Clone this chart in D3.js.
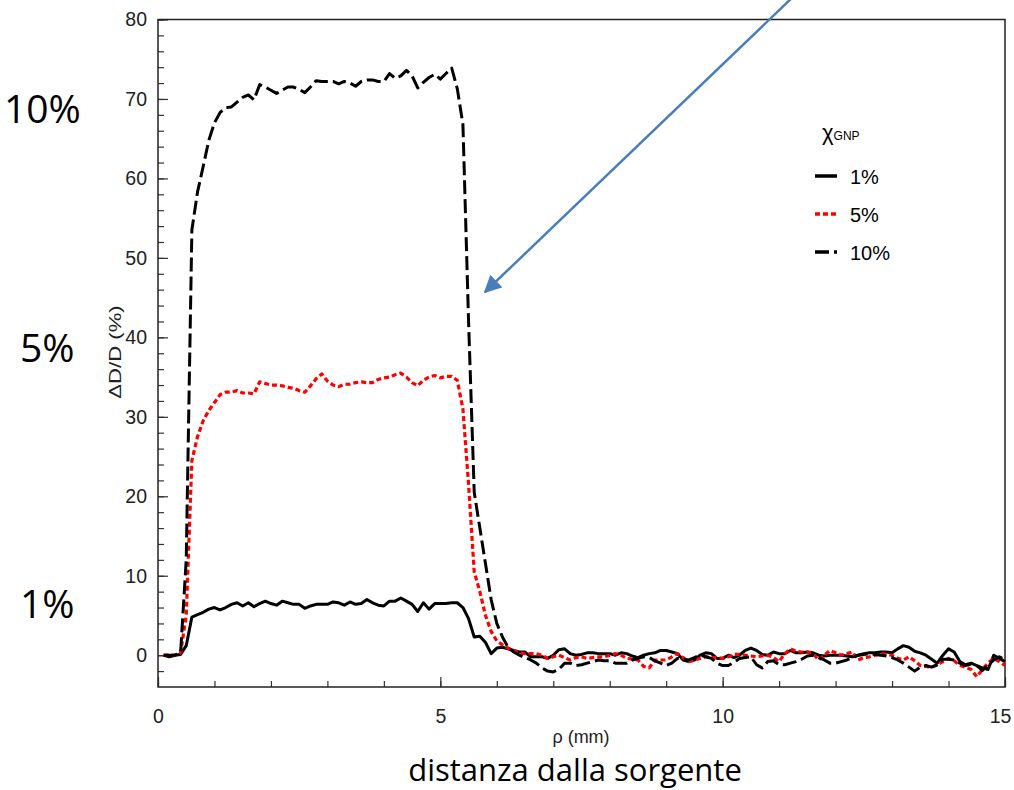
<!DOCTYPE html>
<html>
<head>
<meta charset="utf-8">
<script src="https://cdn.jsdelivr.net/npm/d3@7"></script>
<style>
body { margin: 0; background: #fff; }
</style>
</head>
<body>
<div id="graph"></div>
<script>
// rho (mm), one sample every 0.1 mm
let rho = d3.range(1, 151).map(i => i / 10);

// dD/D (%) for chi_GNP = 1%
let gnp1 = [
  0.0, -0.2, 0.0, 0.1, 1.2, 4.8, 5.1, 5.4, 5.8, 6.0,
  5.7, 6.0, 6.4, 6.6, 6.2, 6.6, 6.1, 6.5, 6.8, 6.5,
  6.3, 6.8, 6.6, 6.4, 6.4, 5.9, 6.2, 6.4, 6.4, 6.4,
  6.7, 6.6, 6.3, 6.7, 6.4, 6.5, 7.0, 6.6, 6.3, 6.2,
  6.8, 6.8, 7.2, 6.8, 6.4, 5.5, 6.6, 5.8, 6.5, 6.5,
  6.5, 6.6, 6.6, 6.0, 4.6, 2.3, 2.4, 1.6, 0.2, 0.9,
  1.0, 0.8, 0.6, 0.4, 0.4, -0.2, -0.2, -0.2, -0.4, 0.0,
  0.7, 0.8, 0.2, 0.0, 0.1, 0.3, 0.3, 0.2, 0.2, 0.2,
  0.0, 0.3, 0.2, -0.1, -0.3, 0.0, 0.2, 0.3, 0.6, 0.6,
  0.4, 0.2, -0.6, -0.8, -0.6, 0.0, 0.3, 0.2, -0.4, -0.4,
  0.0, -0.3, 0.0, 0.6, 0.9, 0.6, 0.1, 0.0, 0.4, 0.2,
  0.2, 0.6, 0.3, 0.3, 0.4, 0.3, 0.0, -0.1, 0.0, 0.0,
  0.0, -0.1, -0.2, 0.0, 0.2, 0.3, 0.3, 0.4, 0.4, 0.3,
  0.8, 1.2, 1.0, 0.5, 0.3, 0.0, -0.5, -1.0, 0.0, 0.8,
  0.4, -0.8, -1.2, -1.0, -1.3, -1.6, -1.8, 0.0, -0.4, -0.8
];

// dD/D (%) for chi_GNP = 5%
let gnp5 = [
  0.0, 0.0, 0.0, 0.3, 5.0, 24.5, 27.5, 29.5, 30.8, 31.8,
  32.8, 33.1, 33.1, 33.3, 33.0, 33.0, 32.9, 34.4, 34.2, 34.0,
  34.0, 33.9, 33.7, 33.6, 33.3, 33.1, 33.9, 34.8, 35.4, 34.5,
  34.0, 33.8, 34.1, 34.1, 34.3, 34.4, 34.3, 34.3, 34.7, 34.9,
  35.0, 35.3, 35.5, 35.0, 34.3, 33.9, 34.6, 35.0, 35.2, 34.9,
  35.1, 35.1, 34.6, 31.0, 21.5, 10.5, 8.0, 5.0, 3.0, 1.8,
  1.3, 0.9, 0.6, 0.3, 0.2, 0.2, 0.2, 0.0, -0.4, -0.2,
  0.0, -0.3, -0.6, -0.3, -0.2, -0.4, -0.3, -0.2, -0.2, 0.0,
  0.2, 0.0, -0.4, -0.5, -0.6, -1.4, -1.6, -0.6, -0.6, -0.6,
  -0.2, 0.2, -0.3, -0.8, -0.6, -0.4, -0.2, -0.3, -0.3, -0.4,
  -0.2, 0.1, 0.1, 0.0, -0.1, -0.2, -0.1, 0.0, -0.3, -0.8,
  0.2, 0.8, 0.5, 0.4, 0.4, 0.2, -0.6, 0.0, 0.6, 0.3,
  0.0, 0.2, 0.4, -0.6, -0.3, -0.2, 0.0, 0.2, 0.1, 0.0,
  -0.4, -0.6, -0.2, -0.7, -1.3, -1.4, -1.5, -1.2, -0.8, -0.4,
  -0.7, -1.3, -1.5, -1.8, -2.7, -1.8, -1.0, -0.4, -0.8, -1.3
];

// dD/D (%) for chi_GNP = 10%
let gnp10 = [
  0.0, 0.0, 0.0, 0.3, 12.0, 53.5, 58.3, 61.5, 64.8, 67.0,
  68.3, 68.9, 69.0, 69.6, 70.2, 70.5, 69.9, 71.8, 71.5, 71.1,
  70.7, 71.1, 71.5, 71.5, 71.2, 70.8, 71.5, 72.3, 72.2, 72.2,
  72.2, 71.9, 72.2, 72.0, 71.6, 72.2, 72.4, 72.4, 72.2, 72.2,
  73.2, 72.6, 72.9, 73.6, 72.9, 71.4, 72.1, 72.7, 73.1, 72.5,
  73.2, 73.9, 71.3, 66.8, 42.0, 20.5, 16.0, 11.5, 7.0, 4.0,
  2.3, 1.0, 0.4, 0.0, -0.3, -0.6, -1.0, -1.6, -2.0, -2.1,
  -1.8, -1.0, -1.0, -1.3, -1.2, -1.0, -0.8, -0.6, -0.7, -0.7,
  -1.0, -1.0, -1.0, -0.6, -0.4, -0.2, -0.3, -0.7, -1.0, -1.3,
  -1.0, -0.4, -0.5, -0.6, -0.3, 0.0, -0.2, -0.4, -1.0, -1.3,
  -1.3, -0.9, -0.4, -0.3, -0.2, -1.2, -1.6, -0.8, -0.7, -1.2,
  -1.2, -1.0, -0.8, -0.5, -0.1, 0.0, -0.3, -0.6, -1.0, -1.0,
  -0.8, -0.6, -0.3, 0.0, 0.1, 0.2, 0.1, 0.0, -0.1, -0.3,
  -0.6, -1.0, -1.5, -2.0, -1.5, -1.3, -1.5, -1.2, -0.5, -0.5,
  -0.6, -1.0, -1.3, -1.1, -1.3, -1.9, -1.2, -0.6, -0.2, -0.6
];

let seriesNames = ["1%", "5%", "10%"];
let xMajor = [0, 5, 10, 15];
let xMinor = d3.range(0, 16);
let yMajor = [0, 10, 20, 30, 40, 50, 60, 70, 80];
let yMinor = d3.range(-2, 81, 2);
let sideLabels = ["10%", "5%", "1%"];

let width = 1014, height = 790;
let sans = "'Liberation Sans', Arial, sans-serif";

let svg = d3.select("#graph")
    .append("svg")
    .attr("width", width)
    .attr("height", height)
    .style("background", "#fff");

let x = d3.scaleLinear().domain([0, 15]).range([158, 1005]);
let y = d3.scaleLinear().domain([-4, 80]).range([687, 19.5]);

// minor ticks first, no labels
svg.append("g")
    .attr("transform", `translate(0,${y(-4)})`)
    .call(d3.axisBottom(x).tickValues(xMinor).tickSize(-6).tickSizeOuter(0).tickFormat(""))
    .call(g => g.select(".domain").remove());
svg.append("g")
    .attr("transform", `translate(${x(0)},0)`)
    .call(d3.axisLeft(y).tickValues(yMinor).tickSize(-6).tickSizeOuter(0).tickFormat(""))
    .call(g => g.select(".domain").remove());

let xAxis = svg.append("g")
    .attr("transform", `translate(0,${y(-4)})`)
    .call(d3.axisBottom(x).tickValues(xMajor).tickSize(-10).tickSizeOuter(0).tickPadding(22))
    .call(g => g.select(".domain").remove());
svg.append("g")
    .attr("transform", `translate(${x(0)},0)`)
    .call(d3.axisLeft(y).tickValues(yMajor).tickSize(-10).tickSizeOuter(0).tickPadding(11))
    .call(g => g.select(".domain").remove());

svg.selectAll(".tick line").attr("stroke", "#333").attr("stroke-width", 1.2);
svg.selectAll(".tick text")
    .attr("font-family", sans)
    .attr("font-size", 19.5)
    .attr("fill", "#222");
// last label sits on the page edge, nudge it in
xAxis.selectAll(".tick text").filter(d => d == 15).attr("dx", -5);

// frame
svg.append("rect")
    .attr("x", x(0))
    .attr("y", y(80))
    .attr("width", x(15) - x(0))
    .attr("height", y(-4) - y(80))
    .attr("fill", "none")
    .attr("stroke", "#222")
    .attr("stroke-width", 1.5);

let line = d3.line()
    .x(d => x(d[0]))
    .y(d => y(d[1]));

let styles = [
    {data: gnp1, color: "#000", dash: null, w: 3},
    {data: gnp5, color: "#ff0000", dash: "5,3", w: 3.2},
    {data: gnp10, color: "#000", dash: "14,5", w: 3}
];

styles.forEach(function(s) {
    svg.append("path")
        .datum(d3.zip(rho, s.data))
        .attr("fill", "none")
        .attr("stroke", s.color)
        .attr("stroke-width", s.w)
        .attr("stroke-dasharray", s.dash)
        .attr("stroke-linejoin", "round")
        .attr("d", line);
});

// legend
let legend = svg.append("g");
legend.append("text")
    .attr("x", 822)
    .attr("y", 140)
    .style("font-family", sans)
    .style("font-size", "22px")
    .text("χ")
    .append("tspan")
    .style("font-size", "12px")
    .text("GNP");

seriesNames.forEach(function(name, i) {
    let ly = 176 + i * 38;
    legend.append("line")
        .attr("x1", 815).attr("x2", 837)
        .attr("y1", ly).attr("y2", ly)
        .attr("stroke", styles[i].color)
        .attr("stroke-width", 3.5)
        .attr("stroke-dasharray", styles[i].dash);
    legend.append("text")
        .attr("x", 850)
        .attr("y", ly + 8)
        .style("font-family", sans)
        .style("font-size", "20px")
        .text(name);
});

// axis titles
svg.append("text")
    .attr("transform", "translate(121,352) rotate(-90) scale(1.3,1)")
    .style("text-anchor", "middle")
    .style("font-family", sans)
    .style("font-size", "17px")
    .attr("fill", "#222")
    .text("ΔD/D (%)");

svg.append("text")
    .attr("x", 581)
    .attr("y", 743)
    .style("text-anchor", "middle")
    .style("font-family", sans)
    .style("font-size", "18px")
    .attr("fill", "#222")
    .text("ρ (mm)");

svg.append("text")
    .attr("x", 575)
    .attr("y", 781)
    .style("text-anchor", "middle")
    .style("font-family", "'Open Sans', sans-serif")
    .style("font-size", "31px")
    .text("distanza dalla sorgente");

// big labels on the left
let sideY = [123, 362, 618];
sideLabels.forEach(function(t, i) {
    svg.append("text")
        .attr("x", i == 0 ? 4 : 20)
        .attr("y", sideY[i])
        .style("font-family", "'Open Sans', sans-serif")
        .style("font-size", "39px")
        .text(t);
});

// blue arrow
svg.append("defs").append("marker")
    .attr("id", "head")
    .attr("viewBox", "0 0 10 10")
    .attr("refX", 9).attr("refY", 5)
    .attr("markerWidth", 7).attr("markerHeight", 7)
    .attr("orient", "auto")
    .append("path")
    .attr("d", "M0,0 L10,5 L0,10 Z")
    .attr("fill", "#4a7ebb");

svg.append("line")
    .attr("x1", 795).attr("y1", -5)
    .attr("x2", 485).attr("y2", 292)
    .attr("stroke", "#4a7ebb")
    .attr("stroke-width", 2.5)
    .attr("marker-end", "url(#head)");
</script>
</body>
</html>
